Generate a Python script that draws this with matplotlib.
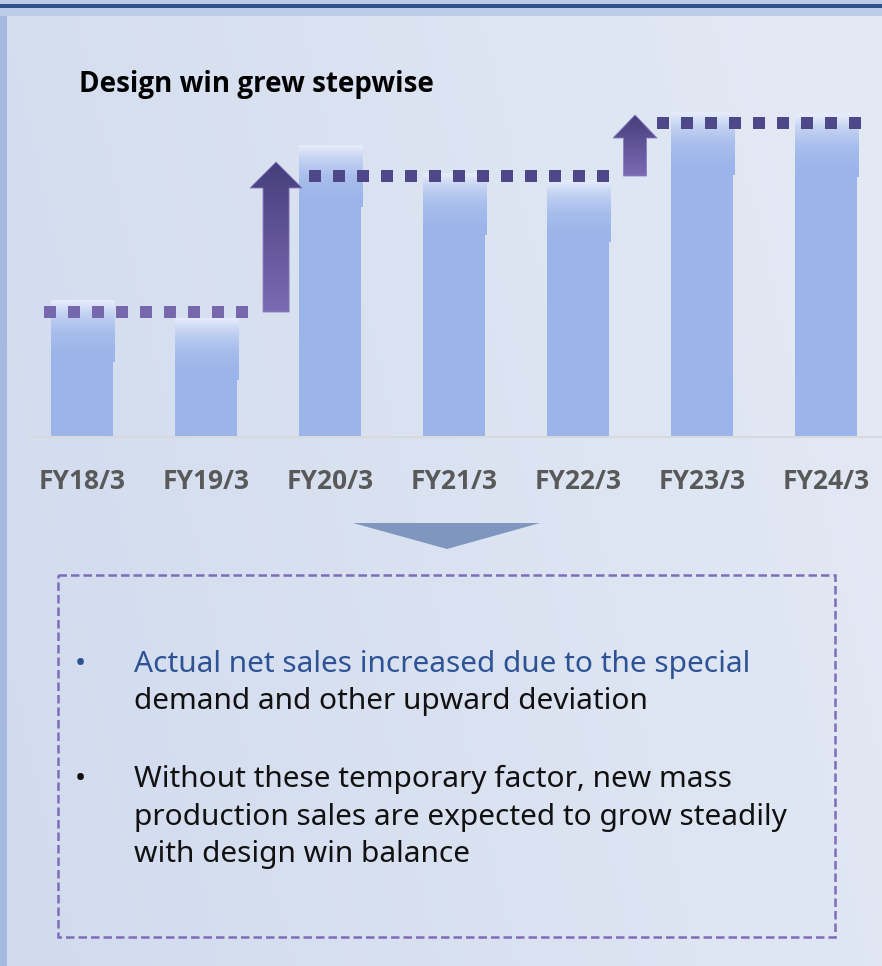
import matplotlib.pyplot as plt
import numpy as np
from matplotlib.colors import to_rgb, LinearSegmentedColormap
from matplotlib.patches import Polygon, Rectangle

# data (relative heights, no axis values shown)
years = ['FY18/3', 'FY19/3', 'FY20/3', 'FY21/3', 'FY22/3', 'FY23/3', 'FY24/3']
design_win = [137, 119, 292, 264, 257, 324, 322]
step_levels = [125, 261, 314]
step_groups = [(0, 1), (2, 4), (5, 6)]

title = 'Design win grew stepwise'
bullet1 = ['Actual net sales increased due to the special',
           'demand and other upward deviation']
bullet2 = ['Without these temporary factor, new mass',
           'production sales are expected to grow steadily',
           'with design win balance']

W, H = 882, 966
plt.rcParams['font.family'] = ['Noto Sans', 'DejaVu Sans']
BOLD = ['Open Sans', 'DejaVu Sans']

fig = plt.figure(figsize=(W / 100, H / 100), dpi=100)

# background layer in pixel coordinates
bg = fig.add_axes([0, 0, 1, 1])
bg.set_xlim(0, W)
bg.set_ylim(H, 0)
bg.axis('off')

xx, yy = np.meshgrid(np.linspace(0, 1, 200), np.linspace(0, 1, 200))
t = np.clip(0.8 * xx + 0.2 * (1 - yy), 0, 1)[..., None]
c0, c1 = np.array(to_rgb('#D1DBEE')), np.array(to_rgb('#E4EAF5'))
bg.imshow(c0 + (c1 - c0) * t, extent=(0, W, H, 0), aspect='auto', zorder=0)

bg.add_patch(Rectangle((0, 0), W, 16, color='#BDCDE7', zorder=1, lw=0))
bg.add_patch(Rectangle((0, 4), W, 4, color='#2C5290', zorder=2, lw=0))
bg.add_patch(Rectangle((0, 16), 7, H, color='#A6BAE0', zorder=1, lw=0))

bg.text(79, 92, title, fontsize=20, fontweight='bold', family=BOLD,
        color='black', va='baseline')

# down triangle
bg.add_patch(Polygon([(353, 523), (540, 523), (447, 549)], closed=True,
                     color='#7F96BF', lw=0, zorder=2))

# dashed box
bg.add_patch(Rectangle((58, 575), 777, 362, fill=False, edgecolor='#7E6DB8',
                       lw=1.8, linestyle=(0, (3.4, 1.6)), zorder=2))

fs = 21.5
bg.text(80, 672, '\u2022', fontsize=fs, color='#2E5395', va='baseline', ha='center')
bg.text(134, 672, bullet1[0], fontsize=fs, color='#2E5395', va='baseline')
bg.text(134, 709, bullet1[1], fontsize=fs, color='#111111', va='baseline')
bg.text(80, 787, '\u2022', fontsize=fs, color='#111111', va='baseline', ha='center')
for i, line in enumerate(bullet2):
    bg.text(134, 787 + 37.5 * i, line, fontsize=fs, color='#111111', va='baseline')

# chart axes
left_px, right_px, top_px, base_px = 30, W, 100, 437
step = 124
ax = fig.add_axes([left_px / W, (H - base_px) / H, (right_px - left_px) / W,
                   (base_px - top_px) / H])
ax.patch.set_alpha(0)
x = np.arange(len(years))
xlim = (-(82 - left_px) / step, (right_px - 82) / step)
ylim = (0, base_px - top_px)

bar_w = 0.5
ax.bar(x, design_win, width=bar_w, color='#9BB4EA', zorder=2)

grad_cmap = LinearSegmentedColormap.from_list(
    'bar', ['#9BB4EA', '#A9BFEC', '#C3D2F2', '#E6ECFB'])
g = np.linspace(0, 1, 64)[:, None]
for xi, v in zip(x, design_win):
    ax.imshow(g ** 1.6, cmap=grad_cmap, origin='lower', aspect='auto',
              extent=(xi - bar_w / 2, xi + bar_w / 2 + 0.01, v - 62, v), zorder=3)

# step arrows
arrow_cmap = LinearSegmentedColormap.from_list('arr', ['#7B6BB2', '#463E7C'])
arrows = [(1.565, step_levels[0], step_levels[1] + 14, 0.42, 0.21, 26),
          (4.46, step_levels[1], step_levels[2] + 8, 0.355, 0.185, 23)]
for ax_x, y0, y1, hw, sw, hl in arrows:
    pts = [(ax_x - sw / 2, y0), (ax_x + sw / 2, y0), (ax_x + sw / 2, y1 - hl),
           (ax_x + hw / 2, y1 - hl), (ax_x, y1), (ax_x - hw / 2, y1 - hl),
           (ax_x - sw / 2, y1 - hl)]
    poly = Polygon(pts, closed=True, facecolor='none', edgecolor='#8A7CC0',
                   lw=0.6, zorder=5)
    ax.add_patch(poly)
    im = ax.imshow(np.linspace(0, 1, 64)[:, None], cmap=arrow_cmap, origin='lower',
                   aspect='auto', extent=(ax_x - hw / 2, ax_x + hw / 2, y0, y1),
                   zorder=4)
    im.set_clip_path(poly)

# dotted step levels
starts = [-0.306, 1.83, 4.637]
ends = [1.35, 4.26, 6.29]
level_colors = ['#7768AE', '#4F4888', '#4F4888']
for lvl, s, e, c in zip(step_levels, starts, ends, level_colors):
    ax.plot([s, e], [lvl, lvl], color=c, lw=8.64, linestyle=(0, (1, 1)),
            dash_capstyle='butt', solid_capstyle='butt', zorder=6)

ax.set_xlim(*xlim)
ax.set_ylim(*ylim)
for side in ['top', 'left', 'right']:
    ax.spines[side].set_visible(False)
ax.spines['bottom'].set_color('#D8D9DD')
ax.spines['bottom'].set_linewidth(1.5)
ax.set_yticks([])
ax.set_xticks(x)
ax.set_xticklabels(years, fontsize=19, fontweight='bold', family=BOLD,
                   color='#595959')
ax.tick_params(axis='x', length=0, pad=22)

fig.savefig('out.png', dpi=100)
